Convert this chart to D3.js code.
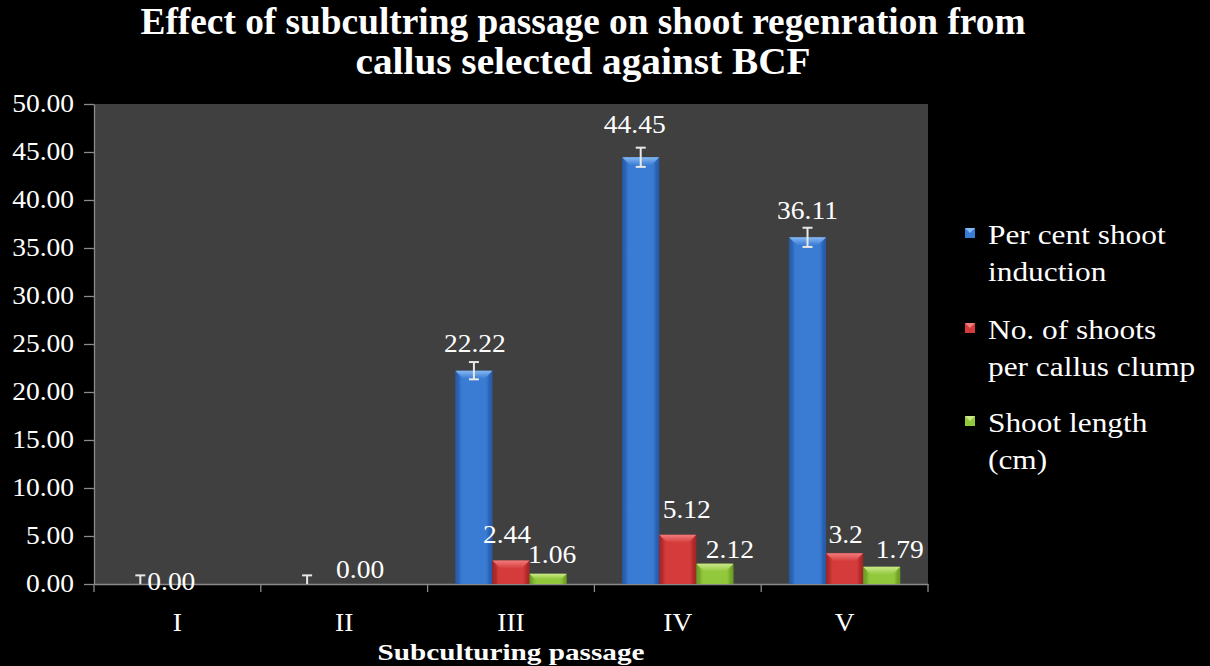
<!DOCTYPE html>
<html>
<head>
<meta charset="utf-8">
<script src="https://cdn.jsdelivr.net/npm/d3@7"></script>
<style>
  html, body { margin: 0; padding: 0; background: #000; }
  svg { display: block; }
  text { font-family: "Liberation Serif", "Times New Roman", serif; fill: #fff; }
</style>
</head>
<body>
<svg id="chart" width="1210" height="666"></svg>
<script>
// ---- data ----
const categories = ["I", "II", "III", "IV", "V"];
const seriesNames = ["Per cent shoot induction", "No. of shoots per callus clump", "Shoot length (cm)"];
const shootInduction = [0, 0, 22.22, 44.45, 36.11];
const shootsPerClump = [null, null, 2.44, 5.12, 3.2];
const shootLength = [null, null, 1.06, 2.12, 1.79];
const inductionError = [0.9, 0.9, 0.9, 1.0, 1.0];
const inductionLabels = ["0.00", "0.00", "22.22", "44.45", "36.11"];
const clumpLabels = ["", "", "2.44", "5.12", "3.2"];
const lengthLabels = ["", "", "1.06", "2.12", "1.79"];
const yTicks = [0, 5, 10, 15, 20, 25, 30, 35, 40, 45, 50];
const legendLines = [["Per cent shoot", "induction"], ["No. of shoots", "per callus clump"], ["Shoot length", "(cm)"]];

// ---- layout ----
const W = 1210, H = 666;
const plot = { left: 94, right: 928, top: 104, bottom: 584 };
const SX = 1.1; // horizontal stretch of the serif lettering

const palette = [
  { main: "#3a7bd4", edge: "#255aa6", top: "#86b9f2" },
  { main: "#d53b3b", edge: "#a32424", top: "#f27b7b" },
  { main: "#92c83c", edge: "#6b9a22", top: "#cbe889" }
];

// label nudges [dx, dy] per series per category
const nudges = [
  [[31, 25], [53, 13], [1, 0], [-6, -5], [0, 1]],
  [[0, 0], [0, 0], [-4, -6], [9, -5], [1, 2]],
  [[0, 0], [0, 0], [4, 1], [15, 6], [18, 3]]
];

const svg = d3.select("#chart");
const defs = svg.append("defs");

palette.forEach((c, i) => {
  const g = defs.append("linearGradient").attr("id", "bar" + i).attr("x1", 0).attr("x2", 1).attr("y1", 0).attr("y2", 0);
  g.append("stop").attr("offset", "0%").attr("stop-color", c.edge);
  g.append("stop").attr("offset", "18%").attr("stop-color", c.main);
  g.append("stop").attr("offset", "82%").attr("stop-color", c.main);
  g.append("stop").attr("offset", "100%").attr("stop-color", c.edge);
  const t = defs.append("linearGradient").attr("id", "top" + i).attr("x1", 0).attr("x2", 0).attr("y1", 0).attr("y2", 1);
  t.append("stop").attr("offset", "0%").attr("stop-color", c.top);
  t.append("stop").attr("offset", "100%").attr("stop-color", c.main);
});

defs.append("clipPath").attr("id", "plotClip")
  .append("rect").attr("x", plot.left).attr("y", plot.top)
  .attr("width", plot.right - plot.left).attr("height", plot.bottom - plot.top);

// stretched text helper
function sText(parent, x, y, str, opts) {
  const g = parent.append("g").attr("transform", `translate(${x},${y}) scale(${opts.sx || SX},1)`);
  return g.append("text")
    .attr("text-anchor", opts.anchor || "middle")
    .attr("font-size", opts.size || 25)
    .attr("font-weight", opts.weight || "normal")
    .text(str);
}

// background
svg.append("rect").attr("width", W).attr("height", H).attr("fill", "#000");
svg.append("rect")
  .attr("x", plot.left).attr("y", plot.top)
  .attr("width", plot.right - plot.left).attr("height", plot.bottom - plot.top)
  .attr("fill", "#404040");

// scales
const y = d3.scaleLinear().domain([0, 50]).range([plot.bottom, plot.top]);
const x = d3.scaleBand().domain(categories).range([plot.left, plot.right]).padding(0);
const bw = x.bandwidth();
const xs = d3.scaleBand().domain(d3.range(3)).range([bw * 0.1665, bw * 0.8335]).padding(0);

// y axis
const yAxis = svg.append("g").attr("transform", `translate(${plot.left},0)`)
  .call(d3.axisLeft(y).tickValues(yTicks).tickSize(10).tickSizeOuter(0).tickFormat(() => ""));
yAxis.selectAll("path, line").attr("stroke", "#8a8a8a").attr("stroke-width", 1.3);
yTicks.forEach(v => sText(svg, 74, y(v) + 8, d3.format(".2f")(v), { anchor: "end" }));

// x axis
const xAxis = svg.append("g").attr("transform", `translate(0,${plot.bottom})`)
  .call(d3.axisBottom(x).tickSize(0).tickSizeOuter(0).tickFormat(() => ""));
xAxis.select("path").attr("stroke", "#8a8a8a").attr("stroke-width", 1.5);
const bounds = categories.map(c => x(c)).concat([plot.right]);
svg.append("g").selectAll("line").data(bounds).join("line")
  .attr("x1", d => d).attr("x2", d => d)
  .attr("y1", plot.bottom).attr("y2", plot.bottom + 8)
  .attr("stroke", "#8a8a8a").attr("stroke-width", 1.3);
categories.forEach(c => sText(svg, x(c) + bw / 2, 631, c, {}));

// bars
const seriesValues = [shootInduction, shootsPerClump, shootLength];
const seriesLabels = [inductionLabels, clumpLabels, lengthLabels];
const barsG = svg.append("g");

seriesValues.forEach((vals, si) => {
  vals.forEach((v, ci) => {
    if (v === null || v <= 0) return;
    const bx = x(categories[ci]) + xs(si);
    const w = xs.bandwidth();
    const top = y(v), h = plot.bottom - top;
    const b = Math.min(8, h / 2);
    const g = barsG.append("g");
    g.append("rect").attr("x", bx).attr("y", top).attr("width", w).attr("height", h).attr("fill", `url(#bar${si})`);
    // bevelled top edge
    g.append("polygon")
      .attr("points", [[bx, top], [bx + w, top], [bx + w - b, top + b], [bx + b, top + b]].map(p => p.join(",")).join(" "))
      .attr("fill", `url(#top${si})`);
    g.append("polygon")
      .attr("points", [[bx, top], [bx + b * 0.5, top + b], [bx + b * 0.5, plot.bottom], [bx, plot.bottom]].map(p => p.join(",")).join(" "))
      .attr("fill", palette[si].edge).attr("opacity", 0.35);
    g.append("polygon")
      .attr("points", [[bx + w, top], [bx + w - b * 0.5, top + b], [bx + w - b * 0.5, plot.bottom], [bx + w, plot.bottom]].map(p => p.join(",")).join(" "))
      .attr("fill", palette[si].edge).attr("opacity", 0.35);
  });
});

// error bars on the induction series
const errG = svg.append("g").attr("clip-path", "url(#plotClip)");
shootInduction.forEach((v, ci) => {
  const cx = x(categories[ci]) + xs(0) + xs.bandwidth() / 2;
  const y1 = y(v + inductionError[ci]), y2 = y(v - inductionError[ci]);
  errG.append("line").attr("x1", cx).attr("x2", cx).attr("y1", y1).attr("y2", y2);
  errG.append("line").attr("x1", cx - 5).attr("x2", cx + 5).attr("y1", y1).attr("y2", y1);
  errG.append("line").attr("x1", cx - 5).attr("x2", cx + 5).attr("y1", y2).attr("y2", y2);
});
errG.selectAll("line").attr("stroke", "#e8e8e8").attr("stroke-width", 2);

// value labels
seriesValues.forEach((vals, si) => {
  vals.forEach((v, ci) => {
    const txt = seriesLabels[si][ci];
    if (!txt) return;
    const cx = x(categories[ci]) + xs(si) + xs.bandwidth() / 2;
    const topY = si === 0 ? y(v + inductionError[ci]) - 10 : y(v) - 12;
    const [dx, dy] = nudges[si][ci];
    sText(svg, cx + dx, topY + dy, txt, {});
  });
});

// title
const title = svg.append("g");
[["Effect of subcultring passage on shoot regenration from", 583, 34, 885],
 ["callus selected against BCF", 583, 74, 455]].forEach(([s, cx, by, w]) => {
  title.append("text").attr("x", cx).attr("y", by).attr("text-anchor", "middle")
    .attr("font-size", 37).attr("font-weight", "bold")
    .attr("textLength", w).attr("lengthAdjust", "spacingAndGlyphs").text(s);
});

// x axis title
svg.append("text").attr("x", 511).attr("y", 660).attr("text-anchor", "middle")
  .attr("font-size", 24).attr("font-weight", "bold")
  .attr("textLength", 267).attr("lengthAdjust", "spacingAndGlyphs")
  .text("Subculturing passage");

// legend
const legend = svg.append("g");
const entryY = [244, 339, 432];
legendLines.forEach((lines, i) => {
  const by = entryY[i];
  const my = by - 16;
  legend.append("rect").attr("x", 965).attr("y", my).attr("width", 10).attr("height", 10).attr("fill", palette[i].main);
  legend.append("polygon")
    .attr("points", [[965, my], [975, my], [970, my + 5]].map(p => p.join(",")).join(" "))
    .attr("fill", palette[i].top);
  lines.forEach((ln, j) => sText(legend, 988, by + j * 37, ln, { anchor: "start", size: 28, sx: 1.12 }));
});
</script>
</body>
</html>
